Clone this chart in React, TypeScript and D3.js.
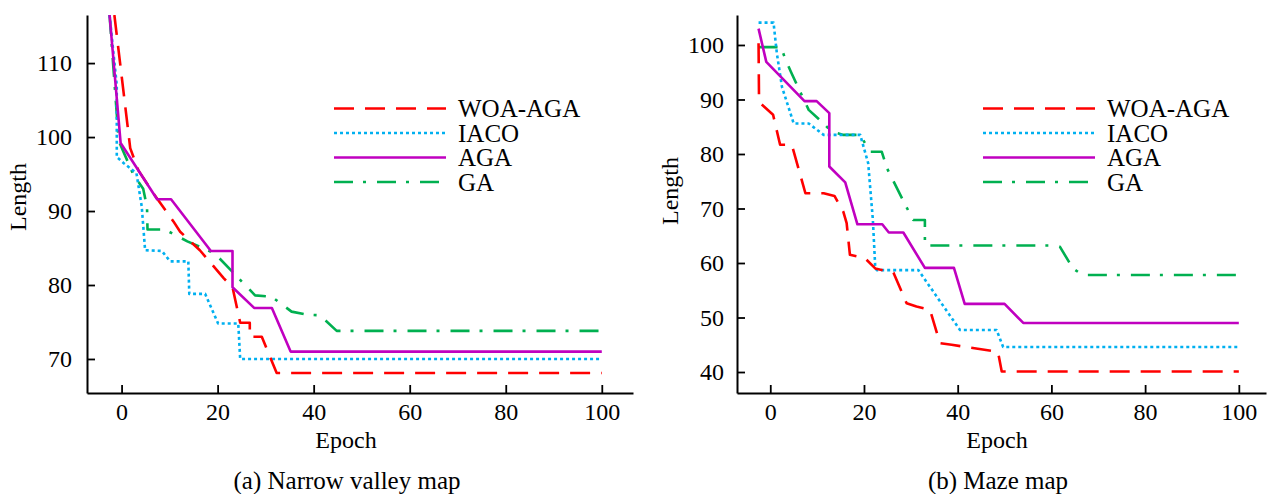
import { useEffect, useRef } from 'react';
import * as d3 from 'd3';

type Pt = [number, number];

const seriesNames = ['WOA-AGA', 'IACO', 'AGA', 'GA'];
const seriesColors = ['#ff0000', '#00b0f0', '#c000c0', '#00b050'];
const seriesDashes: (string | null)[] = ['20,11', '3,3', null, '19,10,3,11'];
// draw order: GA first, AGA last (on top)
const drawOrder = [3, 1, 0, 2];

const epochTicks = [0, 20, 40, 60, 80, 100];
const valleyLengthTicks = [70, 80, 90, 100, 110];
const mazeLengthTicks = [40, 50, 60, 70, 80, 90, 100];

// (a) narrow valley map
const valleyWoaAga: Pt[] = [[-1.5, 116.5], [1.8, 98.5], [3.5, 95.5], [6.6, 92.4], [10.8, 88.6], [12.2, 87.2], [16.3, 84.7], [21.3, 80.9], [23.1, 79.7], [24.7, 74.9], [26.7, 74.9], [26.7, 73], [29.2, 73], [32.3, 68.1], [100, 68.1]];
const valleyIaco: Pt[] = [[-2.5, 116.5], [-1.0, 107], [-1.0, 97.3], [0.4, 96.5], [3.1, 95.1], [4.2, 90.6], [4.9, 84.7], [8.4, 84.6], [10.1, 83.2], [13.9, 83.2], [14.1, 78.8], [17.4, 78.8], [20.1, 74.8], [24.3, 74.8], [24.7, 70], [100, 70]];
const valleyAga: Pt[] = [[-2.5, 116.5], [-0.2, 99.2], [7.4, 91.6], [10.3, 91.6], [18.6, 84.6], [23.1, 84.6], [23.1, 79.7], [27.6, 76.9], [31.3, 76.9], [35.2, 71.0], [100, 71.0]];
const valleyGa: Pt[] = [[-2.5, 116.5], [-0.6, 99.5], [2.4, 95], [4.5, 93], [5.3, 90.5], [5.4, 87.5], [9, 87.5], [13.7, 85.9], [17.2, 84.9], [19.5, 84.2], [27.8, 78.6], [31.3, 78.4], [35.4, 76.4], [38.5, 76], [41.3, 75.9], [44.8, 73.8], [100, 73.8]];

// (b) maze map
const mazeWoaAga: Pt[] = [[-2.5, 100.3], [-2.4, 90], [-2, 89.2], [0.6, 87.2], [2.1, 81.7], [4.6, 81.7], [7.5, 72.8], [11.4, 72.8], [13.7, 72.3], [15.6, 69.4], [16.3, 67.3], [17, 61.5], [20.2, 60.9], [22.4, 59], [26.3, 58.2], [29.1, 52.6], [31.2, 52], [34.1, 51.4], [36.2, 45.3], [38.7, 45], [48.6, 43.7], [49.4, 40.1], [100, 40.1]];
const mazeIaco: Pt[] = [[-2.5, 104.1], [0.7, 104.1], [1.4, 98.5], [2.5, 92.3], [5, 85.6], [8.2, 85.6], [11.4, 83.5], [19.2, 83.5], [20.9, 78.3], [21.9, 67.9], [22.4, 59.3], [22.7, 58.7], [31.6, 58.7], [40.5, 47.7], [48.3, 47.7], [49.7, 44.6], [100, 44.6]];
const mazeAga: Pt[] = [[-2.5, 103], [-0.85, 96.9], [7.3, 89.7], [9.9, 89.7], [12.6, 87.5], [12.6, 77.7], [16, 74.8], [18.6, 67.1], [23.9, 67.1], [25.3, 65.6], [28.4, 65.6], [33, 59.1], [39.2, 59.1], [41.5, 52.5], [50, 52.5], [54, 49], [100, 49]];
const mazeGa: Pt[] = [[-2.5, 99.6], [2.3, 99.6], [3.3, 97.2], [4.4, 95.1], [6, 92.1], [8.2, 88.1], [11, 85.9], [13.1, 84.1], [15.6, 83.5], [19.2, 83.5], [21.3, 80.4], [23.8, 80.4], [24.9, 77.4], [28.5, 71.2], [30.5, 67.9], [33, 67.9], [33, 63.2], [61.1, 63.2], [61.8, 63.0], [64.6, 59], [66.7, 57.8], [100, 57.8]];

const panels = [
  {
    id: 'valley',
    series: [valleyWoaAga, valleyIaco, valleyAga, valleyGa],
    yTicks: valleyLengthTicks,
    xDomain: [-7.2, 106.5], yDomain: [65.4, 116.5],
    left: 87, right: 633, top: 15, bottom: 393,
    tickPad: 15,
    lengthX: 25.5, lengthY: 197,
    epochX: 346,
    legendX: 334, legendLen: 112,
    caption: '(a) Narrow valley map', captionX: 347,
  },
  {
    id: 'maze',
    series: [mazeWoaAga, mazeIaco, mazeAga, mazeGa],
    yTicks: mazeLengthTicks,
    xDomain: [-7.1, 105.8], yDomain: [36.15, 105.5],
    left: 737, right: 1266, top: 15, bottom: 393,
    tickPad: 13,
    lengthX: 678, lengthY: 191,
    epochX: 997,
    legendX: 983, legendLen: 112,
    caption: '(b) Maze map', captionX: 998,
  },
];

const legendRows = [108.5, 133, 157.5, 182];
const font = '"Liberation Serif", "Times New Roman", serif';

export default function App() {
  const ref = useRef<SVGSVGElement>(null);

  useEffect(() => {
    const svg = d3.select(ref.current);
    svg.selectAll('*').remove();

    panels.forEach((p) => {
      const x = d3.scaleLinear().domain(p.xDomain).range([p.left, p.right]);
      const y = d3.scaleLinear().domain(p.yDomain).range([p.bottom, p.top]);
      const g = svg.append('g');

      g.append('clipPath').attr('id', 'clip-' + p.id)
        .append('rect')
        .attr('x', p.left).attr('y', p.top)
        .attr('width', p.right - p.left).attr('height', p.bottom - p.top);

      const line = d3.line<Pt>().x((d) => x(d[0])).y((d) => y(d[1]));
      drawOrder.forEach((i) => {
        g.append('path')
          .attr('d', line(p.series[i]))
          .attr('clip-path', 'url(#clip-' + p.id + ')')
          .attr('fill', 'none')
          .attr('stroke', seriesColors[i])
          .attr('stroke-width', 2.6)
          .attr('stroke-dasharray', seriesDashes[i])
          .attr('stroke-linejoin', 'round');
      });

      const xAxis = g.append('g')
        .attr('transform', `translate(0,${p.bottom})`)
        .call(d3.axisBottom(x).tickValues(epochTicks).tickSizeInner(-8).tickSizeOuter(0).tickPadding(10));
      const yAxis = g.append('g')
        .attr('transform', `translate(${p.left},0)`)
        .call(d3.axisLeft(y).tickValues(p.yTicks).tickSizeInner(-8).tickSizeOuter(0).tickPadding(p.tickPad));
      [xAxis, yAxis].forEach((a) => {
        a.select('.domain').attr('stroke', '#000').attr('stroke-width', 2);
        a.selectAll('.tick line').attr('stroke', '#000').attr('stroke-width', 1.8);
        a.selectAll('.tick text').attr('fill', '#000').style('font-family', font).style('font-size', '24px');
      });

      g.append('text')
        .attr('x', p.epochX).attr('y', 448)
        .attr('text-anchor', 'middle')
        .style('font-family', font).style('font-size', '24px')
        .text('Epoch');

      g.append('text')
        .attr('transform', `translate(${p.lengthX},${p.lengthY}) rotate(-90)`)
        .attr('text-anchor', 'middle')
        .style('font-family', font).style('font-size', '24px')
        .text('Length');

      g.append('text')
        .attr('x', p.captionX).attr('y', 489)
        .attr('text-anchor', 'middle')
        .style('font-family', font).style('font-size', '25px')
        .text(p.caption);

      seriesNames.forEach((name, i) => {
        const ly = legendRows[i];
        g.append('line')
          .attr('x1', p.legendX).attr('x2', p.legendX + p.legendLen)
          .attr('y1', ly).attr('y2', ly)
          .attr('stroke', seriesColors[i])
          .attr('stroke-width', 2.6)
          .attr('stroke-dasharray', seriesDashes[i]);
        g.append('text')
          .attr('x', p.legendX + p.legendLen + 12).attr('y', ly + 8.5)
          .style('font-family', font).style('font-size', '25px')
          .text(name);
      });
    });
  }, []);

  return (
    <svg ref={ref} width={1271} height={494}
      style={{ position: 'absolute', left: 0, top: 0, background: '#fff' }} />
  );
}
